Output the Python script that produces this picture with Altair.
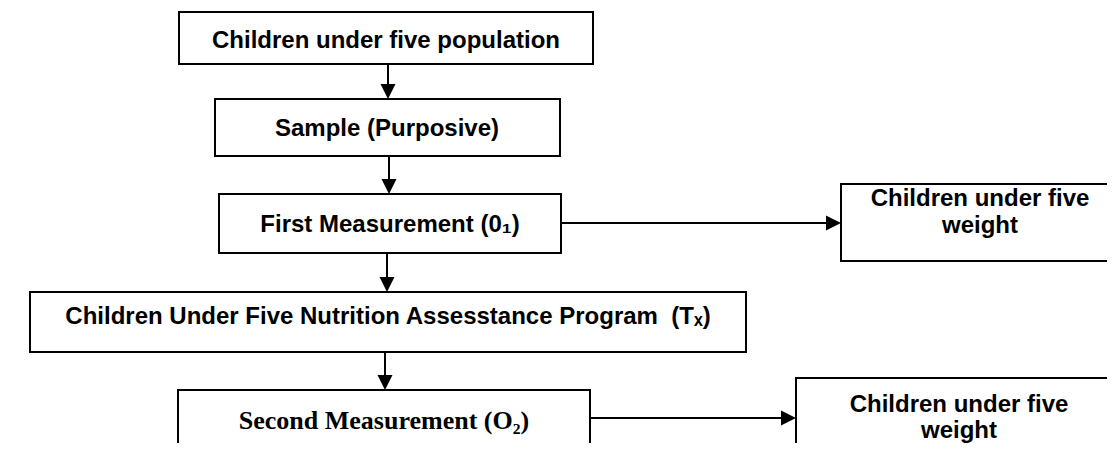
import altair as alt
import pandas as pd

# Boxes (reference pixel coordinates)
box_x0 = [179, 215, 219, 841, 30, 178, 796]
box_x1 = [593, 560, 561, 1130, 746, 590, 1130]
box_y0 = [12, 99, 194, 184, 292, 390, 378]
box_y1 = [64, 156, 253, 261, 352, 446, 470]

# Sans-serif labels
sans_text = ["Children under five population", "Sample (Purposive)",
             "First Measurement (0\u2081)", "Children under five", "weight",
             "Children Under Five Nutrition Assesstance Program \u00a0(T\u2093)",
             "Children under five", "weight"]
sans_x = [386, 387, 390, 980, 980, 388, 959, 959]
sans_y = [48, 136, 232, 206, 233, 324, 412, 438]
sans_size = [24, 24, 24, 24, 24, 24, 24, 24]

# Serif labels
serif_text = ["Second Measurement (O\u2082)"]
serif_x = [384]
serif_y = [429]
serif_size = [26]

# Vertical arrows: x, y start, y end
v_x = [388, 389, 387, 385]
v_y0 = [64, 156, 253, 352]
v_y1 = [99, 194, 292, 390]
# Horizontal arrows: y, x start, x end
h_y = [223, 418]
h_x0 = [561, 590]
h_x1 = [841, 796]

HEAD = 15

xs = alt.Scale(domain=[8, 1107], nice=False, zero=False)
ys = alt.Scale(domain=[8, 443], nice=False, zero=False, reverse=True)

boxes = pd.DataFrame({"x0": box_x0, "x1": box_x1, "y0": box_y0, "y1": box_y1})
rect = alt.Chart(boxes).mark_rect(fill="white", stroke="black", strokeWidth=2, clip=True).encode(
    x=alt.X("x0:Q", scale=xs, axis=None), x2="x1:Q",
    y=alt.Y("y0:Q", scale=ys, axis=None), y2="y1:Q")

lines = pd.DataFrame({
    "x0": v_x + h_x0,
    "x1": v_x + [a - HEAD / 2 for a in h_x1],
    "y0": v_y0 + h_y,
    "y1": [b - HEAD / 2 for b in v_y1] + h_y,
})
rules = alt.Chart(lines).mark_rule(color="black", strokeWidth=2, clip=True).encode(
    x=alt.X("x0:Q", scale=xs, axis=None), x2="x1:Q",
    y=alt.Y("y0:Q", scale=ys, axis=None), y2="y1:Q")

down = pd.DataFrame({"x": v_x, "y": [b - HEAD / 2 for b in v_y1]})
right = pd.DataFrame({"x": [a - HEAD / 2 for a in h_x1], "y": h_y})
head_d = alt.Chart(down).mark_point(shape="M-1,-1L1,-1L0,1Z", filled=True, color="black",
                                     opacity=1, size=HEAD * HEAD, strokeWidth=0).encode(
    x=alt.X("x:Q", scale=xs, axis=None), y=alt.Y("y:Q", scale=ys, axis=None))
head_r = alt.Chart(right).mark_point(shape="M-1,-1L1,0L-1,1Z", filled=True, color="black",
                                      opacity=1, size=HEAD * HEAD, strokeWidth=0).encode(
    x=alt.X("x:Q", scale=xs, axis=None), y=alt.Y("y:Q", scale=ys, axis=None))

sdf = pd.DataFrame({"t": sans_text, "x": sans_x, "y": sans_y, "s": sans_size})
sans = alt.Chart(sdf).mark_text(font="Liberation Sans", fontWeight="bold", align="center",
                                baseline="alphabetic", color="black").encode(
    x=alt.X("x:Q", scale=xs, axis=None), y=alt.Y("y:Q", scale=ys, axis=None),
    text="t:N", size=alt.Size("s:Q", scale=None, legend=None))

tdf = pd.DataFrame({"t": serif_text, "x": serif_x, "y": serif_y, "s": serif_size})
serif = alt.Chart(tdf).mark_text(font="Liberation Serif", fontWeight="bold", align="center",
                                 baseline="alphabetic", color="black").encode(
    x=alt.X("x:Q", scale=xs, axis=None), y=alt.Y("y:Q", scale=ys, axis=None),
    text="t:N", size=alt.Size("s:Q", scale=None, legend=None))

chart = alt.layer(rect, rules, head_d, head_r, sans, serif).properties(
    width=1099, height=435, padding=0, autosize=alt.AutoSizeParams(type="none"),
    background="white"
).configure_view(stroke=None)

chart.save("out.html", embed_options={"renderer": "svg", "actions": False})
